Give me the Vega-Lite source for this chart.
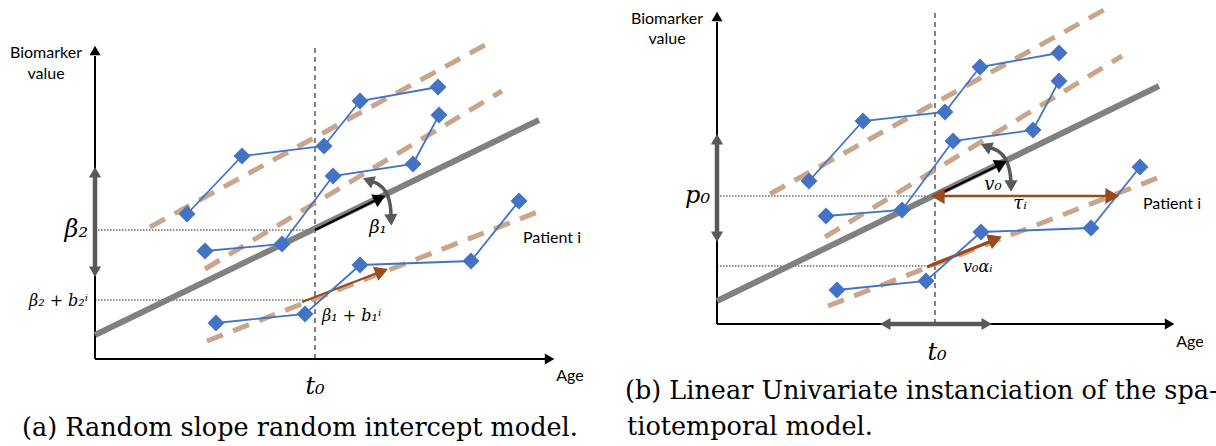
{
  "$schema": "https://vega.github.io/schema/vega-lite/v6.json",
  "padding": 0,
  "spacing": 0,
  "background": "white",
  "config": {"view": {"stroke": null}},
  "datasets": {
    "segs": [
      {"panel": "a", "id": "a_yax", "style": "axis", "o": 0, "x": 0, "y": 0},
      {"panel": "a", "id": "a_yax", "style": "axis", "o": 1, "x": 0, "y": 303},
      {"panel": "a", "id": "a_xax", "style": "axis", "o": 0, "x": 0, "y": 0},
      {"panel": "a", "id": "a_xax", "style": "axis", "o": 1, "x": 450, "y": 0},
      {"panel": "a", "id": "a_gs", "style": "grayshaft", "o": 0, "x": 0, "y": 89},
      {"panel": "a", "id": "a_gs", "style": "grayshaft", "o": 1, "x": 0, "y": 185},
      {"panel": "a", "id": "a_d1", "style": "dotted", "o": 0, "x": 0, "y": 129},
      {"panel": "a", "id": "a_d1", "style": "dotted", "o": 1, "x": 220, "y": 129},
      {"panel": "a", "id": "a_d2", "style": "dotted", "o": 0, "x": 0, "y": 59},
      {"panel": "a", "id": "a_d2", "style": "dotted", "o": 1, "x": 220, "y": 59},
      {"panel": "a", "id": "a_t0", "style": "t0", "o": 0, "x": 220, "y": 0},
      {"panel": "a", "id": "a_t0", "style": "t0", "o": 1, "x": 220, "y": 312},
      {"panel": "a", "id": "a_pop", "style": "pop", "o": 0, "x": 0, "y": 24},
      {"panel": "a", "id": "a_pop", "style": "pop", "o": 1, "x": 444, "y": 239},
      {"panel": "a", "id": "a_tA", "style": "tan", "o": 0, "x": 55, "y": 132},
      {"panel": "a", "id": "a_tA", "style": "tan", "o": 1, "x": 390, "y": 314},
      {"panel": "a", "id": "a_tB", "style": "tan", "o": 0, "x": 110, "y": 90},
      {"panel": "a", "id": "a_tB", "style": "tan", "o": 1, "x": 407, "y": 268},
      {"panel": "a", "id": "a_tC", "style": "tan", "o": 0, "x": 112, "y": 18},
      {"panel": "a", "id": "a_tC", "style": "tan", "o": 1, "x": 445, "y": 148},
      {"panel": "a", "id": "a_bk", "style": "black", "o": 0, "x": 220, "y": 129},
      {"panel": "a", "id": "a_bk", "style": "black", "o": 1, "x": 283, "y": 160},
      {"panel": "a", "id": "a_br", "style": "brown", "o": 0, "x": 207, "y": 57},
      {"panel": "a", "id": "a_br", "style": "brown", "o": 1, "x": 285, "y": 87},
      {"panel": "a", "id": "a_cv", "style": "curve", "o": 0, "x": 273, "y": 178.5},
      {"panel": "a", "id": "a_cv", "style": "curve", "o": 1, "x": 283, "y": 175},
      {"panel": "a", "id": "a_cv", "style": "curve", "o": 2, "x": 291, "y": 167},
      {"panel": "a", "id": "a_cv", "style": "curve", "o": 3, "x": 295, "y": 155},
      {"panel": "a", "id": "a_cv", "style": "curve", "o": 4, "x": 296, "y": 143},

      {"panel": "b", "id": "b_yax", "style": "axis", "o": 0, "x": 0, "y": 0},
      {"panel": "b", "id": "b_yax", "style": "axis", "o": 1, "x": 0, "y": 302},
      {"panel": "b", "id": "b_xax", "style": "axis", "o": 0, "x": 0, "y": 0},
      {"panel": "b", "id": "b_xax", "style": "axis", "o": 1, "x": 448, "y": 0},
      {"panel": "b", "id": "b_gs1", "style": "grayshaft", "o": 0, "x": 0, "y": 89},
      {"panel": "b", "id": "b_gs1", "style": "grayshaft", "o": 1, "x": 0, "y": 183},
      {"panel": "b", "id": "b_gs2", "style": "grayshaft", "o": 0, "x": 170, "y": 0},
      {"panel": "b", "id": "b_gs2", "style": "grayshaft", "o": 1, "x": 268, "y": 0},
      {"panel": "b", "id": "b_d1", "style": "dotted", "o": 0, "x": 0, "y": 128},
      {"panel": "b", "id": "b_d1", "style": "dotted", "o": 1, "x": 218, "y": 128},
      {"panel": "b", "id": "b_d2", "style": "dotted", "o": 0, "x": 0, "y": 58},
      {"panel": "b", "id": "b_d2", "style": "dotted", "o": 1, "x": 218, "y": 58},
      {"panel": "b", "id": "b_t0", "style": "t0", "o": 0, "x": 218, "y": 0},
      {"panel": "b", "id": "b_t0", "style": "t0", "o": 1, "x": 218, "y": 312},
      {"panel": "b", "id": "b_pop", "style": "pop", "o": 0, "x": 0, "y": 23},
      {"panel": "b", "id": "b_pop", "style": "pop", "o": 1, "x": 442, "y": 238},
      {"panel": "b", "id": "b_tA", "style": "tan", "o": 0, "x": 53, "y": 130},
      {"panel": "b", "id": "b_tA", "style": "tan", "o": 1, "x": 387, "y": 314},
      {"panel": "b", "id": "b_tB", "style": "tan", "o": 0, "x": 108, "y": 87},
      {"panel": "b", "id": "b_tB", "style": "tan", "o": 1, "x": 405, "y": 268},
      {"panel": "b", "id": "b_tC", "style": "tan", "o": 0, "x": 111, "y": 18},
      {"panel": "b", "id": "b_tC", "style": "tan", "o": 1, "x": 443, "y": 147},
      {"panel": "b", "id": "b_bk", "style": "black", "o": 0, "x": 218, "y": 128},
      {"panel": "b", "id": "b_bk", "style": "black", "o": 1, "x": 282, "y": 159},
      {"panel": "b", "id": "b_tau", "style": "brown", "o": 0, "x": 223, "y": 128},
      {"panel": "b", "id": "b_tau", "style": "brown", "o": 1, "x": 393, "y": 128},
      {"panel": "b", "id": "b_br", "style": "brownbig", "o": 0, "x": 210, "y": 57},
      {"panel": "b", "id": "b_br", "style": "brownbig", "o": 1, "x": 277, "y": 84},
      {"panel": "b", "id": "b_cv", "style": "curve", "o": 0, "x": 271, "y": 177},
      {"panel": "b", "id": "b_cv", "style": "curve", "o": 1, "x": 281, "y": 173},
      {"panel": "b", "id": "b_cv", "style": "curve", "o": 2, "x": 288, "y": 166},
      {"panel": "b", "id": "b_cv", "style": "curve", "o": 3, "x": 292, "y": 156},
      {"panel": "b", "id": "b_cv", "style": "curve", "o": 4, "x": 294, "y": 143}
    ],
    "obs": [
      {"panel": "a", "pid": "A", "o": 0, "x": 92, "y": 145},
      {"panel": "a", "pid": "A", "o": 1, "x": 147, "y": 203},
      {"panel": "a", "pid": "A", "o": 2, "x": 229, "y": 213},
      {"panel": "a", "pid": "A", "o": 3, "x": 265, "y": 258},
      {"panel": "a", "pid": "A", "o": 4, "x": 343, "y": 272},
      {"panel": "a", "pid": "B", "o": 0, "x": 110, "y": 108},
      {"panel": "a", "pid": "B", "o": 1, "x": 187, "y": 115},
      {"panel": "a", "pid": "B", "o": 2, "x": 238, "y": 183},
      {"panel": "a", "pid": "B", "o": 3, "x": 318, "y": 195},
      {"panel": "a", "pid": "B", "o": 4, "x": 344, "y": 244},
      {"panel": "a", "pid": "C", "o": 0, "x": 121, "y": 36},
      {"panel": "a", "pid": "C", "o": 1, "x": 210, "y": 45},
      {"panel": "a", "pid": "C", "o": 2, "x": 265, "y": 94},
      {"panel": "a", "pid": "C", "o": 3, "x": 376, "y": 98},
      {"panel": "a", "pid": "C", "o": 4, "x": 424, "y": 158},
      {"panel": "b", "pid": "A", "o": 0, "x": 92, "y": 143},
      {"panel": "b", "pid": "A", "o": 1, "x": 146, "y": 203},
      {"panel": "b", "pid": "A", "o": 2, "x": 228, "y": 212},
      {"panel": "b", "pid": "A", "o": 3, "x": 263, "y": 257},
      {"panel": "b", "pid": "A", "o": 4, "x": 342, "y": 271},
      {"panel": "b", "pid": "B", "o": 0, "x": 109, "y": 108},
      {"panel": "b", "pid": "B", "o": 1, "x": 185, "y": 114},
      {"panel": "b", "pid": "B", "o": 2, "x": 236, "y": 183},
      {"panel": "b", "pid": "B", "o": 3, "x": 316, "y": 194},
      {"panel": "b", "pid": "B", "o": 4, "x": 342, "y": 243},
      {"panel": "b", "pid": "C", "o": 0, "x": 120, "y": 34},
      {"panel": "b", "pid": "C", "o": 1, "x": 209, "y": 43},
      {"panel": "b", "pid": "C", "o": 2, "x": 264, "y": 92},
      {"panel": "b", "pid": "C", "o": 3, "x": 374, "y": 96},
      {"panel": "b", "pid": "C", "o": 4, "x": 423, "y": 157}
    ],
    "heads": [
      {"panel": "a", "kind": "axis", "x": 0, "y": 307, "heading": 0},
      {"panel": "a", "kind": "axis", "x": 453, "y": 0, "heading": 90},
      {"panel": "a", "kind": "gray", "x": 0, "y": 185, "heading": 0},
      {"panel": "a", "kind": "gray", "x": 0, "y": 89, "heading": 180},
      {"panel": "a", "kind": "curve", "x": 275, "y": 178, "heading": -69},
      {"panel": "a", "kind": "curve", "x": 296, "y": 141, "heading": 177},
      {"panel": "a", "kind": "black", "x": 283, "y": 160, "heading": 64},
      {"panel": "a", "kind": "brown", "x": 284.7, "y": 86.8, "heading": 69},
      {"panel": "b", "kind": "axis", "x": 0, "y": 306, "heading": 0},
      {"panel": "b", "kind": "axis", "x": 451, "y": 0, "heading": 90},
      {"panel": "b", "kind": "gray", "x": 0, "y": 183, "heading": 0},
      {"panel": "b", "kind": "gray", "x": 0, "y": 89, "heading": 180},
      {"panel": "b", "kind": "gray", "x": 170, "y": 0, "heading": -90},
      {"panel": "b", "kind": "gray", "x": 268, "y": 0, "heading": 90},
      {"panel": "b", "kind": "curve", "x": 270.8, "y": 177, "heading": -67},
      {"panel": "b", "kind": "curve", "x": 294, "y": 140, "heading": 180},
      {"panel": "b", "kind": "black", "x": 282.5, "y": 159.3, "heading": 64},
      {"panel": "b", "kind": "brownbig", "x": 223, "y": 128, "heading": -90},
      {"panel": "b", "kind": "brownbig", "x": 393, "y": 128, "heading": 90},
      {"panel": "b", "kind": "brownbig", "x": 276.2, "y": 84, "heading": 68}
    ],
    "texts": [
      {"panel": "a", "role": "sansC", "x": -49, "y": 306, "label": "Biomarker"},
      {"panel": "a", "role": "sansC", "x": -49, "y": 285, "label": "value"},
      {"panel": "a", "role": "sansC", "x": 475, "y": -17, "label": "Age"},
      {"panel": "a", "role": "sansL", "x": 428, "y": 121, "label": "Patient i"},
      {"panel": "a", "role": "bigC", "x": 220, "y": -28, "label": "t₀"},
      {"panel": "a", "role": "bigR", "x": -7, "y": 129, "label": "β₂"},
      {"panel": "a", "role": "midC", "x": 283, "y": 131, "label": "β₁"},
      {"panel": "a", "role": "smallR", "x": -7, "y": 58, "label": "β₂ + b₂ⁱ"},
      {"panel": "a", "role": "smallL", "x": 227, "y": 43, "label": "β₁ + b₁ⁱ"},
      {"panel": "a", "role": "cap", "x": -73, "y": -69, "label": "(a) Random slope random intercept model."},
      {"panel": "b", "role": "sansC", "x": -50, "y": 305, "label": "Biomarker"},
      {"panel": "b", "role": "sansC", "x": -50, "y": 285, "label": "value"},
      {"panel": "b", "role": "sansC", "x": 473, "y": -18, "label": "Age"},
      {"panel": "b", "role": "sansL", "x": 426, "y": 120, "label": "Patient i"},
      {"panel": "b", "role": "bigC", "x": 220, "y": -29, "label": "t₀"},
      {"panel": "b", "role": "bigR", "x": -7, "y": 128, "label": "p₀"},
      {"panel": "b", "role": "midC", "x": 276, "y": 139, "label": "v₀"},
      {"panel": "b", "role": "midC", "x": 303, "y": 120, "label": "τᵢ"},
      {"panel": "b", "role": "smallL", "x": 246, "y": 57, "label": "v₀αᵢ"},
      {"panel": "b", "role": "cap", "x": -92, "y": -67, "label": "(b) Linear Univariate instanciation of the spa-"},
      {"panel": "b", "role": "cap", "x": -90, "y": -103, "label": "tiotemporal model."}
    ]
  },
  "hconcat": [
    {
      "width": 600,
      "height": 446,
      "encoding": {
        "x": {"field": "x", "type": "quantitative", "scale": {"domain": [-95, 505], "nice": false, "zero": false}, "axis": null},
        "y": {"field": "y", "type": "quantitative", "scale": {"domain": [-91, 355], "nice": false, "zero": false}, "axis": null}
      },
      "layer": [
        {"data": {"name": "segs"}, "transform": [{"filter": "datum.panel=='a' && datum.style=='dotted'"}], "mark": {"type": "line", "stroke": "#222", "strokeWidth": 1.2, "strokeDash": [1.5, 1.5]}, "encoding": {"detail": {"field": "id"}, "order": {"field": "o", "type": "quantitative"}}},
        {"data": {"name": "segs"}, "transform": [{"filter": "datum.panel=='a' && datum.style=='t0'"}], "mark": {"type": "line", "stroke": "#404040", "strokeWidth": 1.3, "strokeDash": [5, 4]}, "encoding": {"detail": {"field": "id"}, "order": {"field": "o", "type": "quantitative"}}},
        {"data": {"name": "segs"}, "transform": [{"filter": "datum.panel=='a' && datum.style=='axis'"}], "mark": {"type": "line", "stroke": "#000", "strokeWidth": 2}, "encoding": {"detail": {"field": "id"}, "order": {"field": "o", "type": "quantitative"}}},
        {"data": {"name": "segs"}, "transform": [{"filter": "datum.panel=='a' && datum.style=='grayshaft'"}], "mark": {"type": "line", "stroke": "#595959", "strokeWidth": 4.5}, "encoding": {"detail": {"field": "id"}, "order": {"field": "o", "type": "quantitative"}}},
        {"data": {"name": "segs"}, "transform": [{"filter": "datum.panel=='a' && datum.style=='pop'"}], "mark": {"type": "line", "stroke": "#808080", "strokeWidth": 6}, "encoding": {"detail": {"field": "id"}, "order": {"field": "o", "type": "quantitative"}}},
        {"data": {"name": "segs"}, "transform": [{"filter": "datum.panel=='a' && datum.style=='tan'"}], "mark": {"type": "line", "stroke": "#C9A68B", "strokeWidth": 5, "strokeDash": [17, 11]}, "encoding": {"detail": {"field": "id"}, "order": {"field": "o", "type": "quantitative"}}},
        {"data": {"name": "segs"}, "transform": [{"filter": "datum.panel=='a' && datum.style=='brown'"}], "mark": {"type": "line", "stroke": "#9C4A1A", "strokeWidth": 2}, "encoding": {"detail": {"field": "id"}, "order": {"field": "o", "type": "quantitative"}}},
        {"data": {"name": "obs"}, "transform": [{"filter": "datum.panel=='a'"}], "mark": {"type": "line", "stroke": "#4472C4", "strokeWidth": 1.8}, "encoding": {"detail": {"field": "pid"}, "order": {"field": "o", "type": "quantitative"}}},
        {"data": {"name": "obs"}, "transform": [{"filter": "datum.panel=='a'"}], "mark": {"type": "point", "shape": "diamond", "filled": true, "opacity": 1, "color": "#4472C4", "size": 290, "strokeWidth": 0}},
        {"data": {"name": "segs"}, "transform": [{"filter": "datum.panel=='a' && datum.style=='black'"}], "mark": {"type": "line", "stroke": "#000", "strokeWidth": 2.5}, "encoding": {"detail": {"field": "id"}, "order": {"field": "o", "type": "quantitative"}}},
        {"data": {"name": "segs"}, "transform": [{"filter": "datum.panel=='a' && datum.style=='curve'"}], "mark": {"type": "line", "stroke": "#595959", "strokeWidth": 3.5, "interpolate": "cardinal"}, "encoding": {"detail": {"field": "id"}, "order": {"field": "o", "type": "quantitative"}}},
        {"data": {"name": "heads"}, "transform": [{"filter": "datum.panel=='a'"}], "mark": {"type": "point", "shape": "triangle", "filled": true, "opacity": 1, "strokeWidth": 0},
          "encoding": {
            "color": {"field": "kind", "type": "nominal", "scale": {"domain": ["axis", "gray", "curve", "black", "brown", "brownbig"], "range": ["#000000", "#595959", "#595959", "#000000", "#9C4A1A", "#9C4A1A"]}, "legend": null},
            "size": {"field": "kind", "type": "ordinal", "scale": {"domain": ["axis", "gray", "curve", "black", "brown", "brownbig"], "range": [121, 256, 144, 100, 64, 144]}, "legend": null},
            "angle": {"field": "heading", "type": "quantitative", "scale": null}
          }},
        {"data": {"name": "texts"}, "transform": [{"filter": "datum.panel=='a' && datum.role=='sansC'"}], "mark": {"type": "text", "font": "Lato", "fontSize": 16, "align": "center", "baseline": "middle", "color": "#000"}, "encoding": {"text": {"field": "label"}}},
        {"data": {"name": "texts"}, "transform": [{"filter": "datum.panel=='a' && datum.role=='sansL'"}], "mark": {"type": "text", "font": "Lato", "fontSize": 16, "align": "left", "baseline": "middle", "color": "#000"}, "encoding": {"text": {"field": "label"}}},
        {"data": {"name": "texts"}, "transform": [{"filter": "datum.panel=='a' && datum.role=='bigC'"}], "mark": {"type": "text", "font": "DejaVu Serif", "fontStyle": "italic", "fontSize": 24, "align": "center", "baseline": "middle", "color": "#000"}, "encoding": {"text": {"field": "label"}}},
        {"data": {"name": "texts"}, "transform": [{"filter": "datum.panel=='a' && datum.role=='bigR'"}], "mark": {"type": "text", "font": "DejaVu Serif", "fontStyle": "italic", "fontSize": 24, "align": "right", "baseline": "middle", "color": "#000"}, "encoding": {"text": {"field": "label"}}},
        {"data": {"name": "texts"}, "transform": [{"filter": "datum.panel=='a' && datum.role=='midC'"}], "mark": {"type": "text", "font": "DejaVu Serif", "fontStyle": "italic", "fontSize": 18, "align": "center", "baseline": "middle", "color": "#000"}, "encoding": {"text": {"field": "label"}}},
        {"data": {"name": "texts"}, "transform": [{"filter": "datum.panel=='a' && datum.role=='smallR'"}], "mark": {"type": "text", "font": "DejaVu Serif", "fontStyle": "italic", "fontSize": 16, "align": "right", "baseline": "middle", "color": "#000"}, "encoding": {"text": {"field": "label"}}},
        {"data": {"name": "texts"}, "transform": [{"filter": "datum.panel=='a' && datum.role=='smallL'"}], "mark": {"type": "text", "font": "DejaVu Serif", "fontStyle": "italic", "fontSize": 16, "align": "left", "baseline": "middle", "color": "#000"}, "encoding": {"text": {"field": "label"}}},
        {"data": {"name": "texts"}, "transform": [{"filter": "datum.panel=='a' && datum.role=='cap'"}], "mark": {"type": "text", "font": "DejaVu Serif", "fontSize": 25.5, "align": "left", "baseline": "middle", "color": "#000"}, "encoding": {"text": {"field": "label"}}}
      ]
    },
    {
      "width": 616,
      "height": 446,
      "encoding": {
        "x": {"field": "x", "type": "quantitative", "scale": {"domain": [-117, 499], "nice": false, "zero": false}, "axis": null},
        "y": {"field": "y", "type": "quantitative", "scale": {"domain": [-126, 320], "nice": false, "zero": false}, "axis": null}
      },
      "layer": [
        {"data": {"name": "segs"}, "transform": [{"filter": "datum.panel=='b' && datum.style=='dotted'"}], "mark": {"type": "line", "stroke": "#222", "strokeWidth": 1.2, "strokeDash": [1.5, 1.5]}, "encoding": {"detail": {"field": "id"}, "order": {"field": "o", "type": "quantitative"}}},
        {"data": {"name": "segs"}, "transform": [{"filter": "datum.panel=='b' && datum.style=='t0'"}], "mark": {"type": "line", "stroke": "#404040", "strokeWidth": 1.3, "strokeDash": [5, 4]}, "encoding": {"detail": {"field": "id"}, "order": {"field": "o", "type": "quantitative"}}},
        {"data": {"name": "segs"}, "transform": [{"filter": "datum.panel=='b' && datum.style=='axis'"}], "mark": {"type": "line", "stroke": "#000", "strokeWidth": 2}, "encoding": {"detail": {"field": "id"}, "order": {"field": "o", "type": "quantitative"}}},
        {"data": {"name": "segs"}, "transform": [{"filter": "datum.panel=='b' && datum.style=='grayshaft'"}], "mark": {"type": "line", "stroke": "#595959", "strokeWidth": 4.5}, "encoding": {"detail": {"field": "id"}, "order": {"field": "o", "type": "quantitative"}}},
        {"data": {"name": "segs"}, "transform": [{"filter": "datum.panel=='b' && datum.style=='pop'"}], "mark": {"type": "line", "stroke": "#808080", "strokeWidth": 6}, "encoding": {"detail": {"field": "id"}, "order": {"field": "o", "type": "quantitative"}}},
        {"data": {"name": "segs"}, "transform": [{"filter": "datum.panel=='b' && datum.style=='tan'"}], "mark": {"type": "line", "stroke": "#C9A68B", "strokeWidth": 5, "strokeDash": [17, 11]}, "encoding": {"detail": {"field": "id"}, "order": {"field": "o", "type": "quantitative"}}},
        {"data": {"name": "segs"}, "transform": [{"filter": "datum.panel=='b' && datum.style=='brown'"}], "mark": {"type": "line", "stroke": "#9C4A1A", "strokeWidth": 2.5}, "encoding": {"detail": {"field": "id"}, "order": {"field": "o", "type": "quantitative"}}},
        {"data": {"name": "segs"}, "transform": [{"filter": "datum.panel=='b' && datum.style=='brownbig'"}], "mark": {"type": "line", "stroke": "#9C4A1A", "strokeWidth": 3.2}, "encoding": {"detail": {"field": "id"}, "order": {"field": "o", "type": "quantitative"}}},
        {"data": {"name": "obs"}, "transform": [{"filter": "datum.panel=='b'"}], "mark": {"type": "line", "stroke": "#4472C4", "strokeWidth": 1.8}, "encoding": {"detail": {"field": "pid"}, "order": {"field": "o", "type": "quantitative"}}},
        {"data": {"name": "obs"}, "transform": [{"filter": "datum.panel=='b'"}], "mark": {"type": "point", "shape": "diamond", "filled": true, "opacity": 1, "color": "#4472C4", "size": 290, "strokeWidth": 0}},
        {"data": {"name": "segs"}, "transform": [{"filter": "datum.panel=='b' && datum.style=='black'"}], "mark": {"type": "line", "stroke": "#000", "strokeWidth": 2.5}, "encoding": {"detail": {"field": "id"}, "order": {"field": "o", "type": "quantitative"}}},
        {"data": {"name": "segs"}, "transform": [{"filter": "datum.panel=='b' && datum.style=='curve'"}], "mark": {"type": "line", "stroke": "#595959", "strokeWidth": 3.5, "interpolate": "cardinal"}, "encoding": {"detail": {"field": "id"}, "order": {"field": "o", "type": "quantitative"}}},
        {"data": {"name": "heads"}, "transform": [{"filter": "datum.panel=='b'"}], "mark": {"type": "point", "shape": "triangle", "filled": true, "opacity": 1, "strokeWidth": 0},
          "encoding": {
            "color": {"field": "kind", "type": "nominal", "scale": {"domain": ["axis", "gray", "curve", "black", "brown", "brownbig"], "range": ["#000000", "#595959", "#595959", "#000000", "#9C4A1A", "#9C4A1A"]}, "legend": null},
            "size": {"field": "kind", "type": "ordinal", "scale": {"domain": ["axis", "gray", "curve", "black", "brown", "brownbig"], "range": [121, 256, 144, 100, 64, 144]}, "legend": null},
            "angle": {"field": "heading", "type": "quantitative", "scale": null}
          }},
        {"data": {"name": "texts"}, "transform": [{"filter": "datum.panel=='b' && datum.role=='sansC'"}], "mark": {"type": "text", "font": "Lato", "fontSize": 16, "align": "center", "baseline": "middle", "color": "#000"}, "encoding": {"text": {"field": "label"}}},
        {"data": {"name": "texts"}, "transform": [{"filter": "datum.panel=='b' && datum.role=='sansL'"}], "mark": {"type": "text", "font": "Lato", "fontSize": 16, "align": "left", "baseline": "middle", "color": "#000"}, "encoding": {"text": {"field": "label"}}},
        {"data": {"name": "texts"}, "transform": [{"filter": "datum.panel=='b' && datum.role=='bigC'"}], "mark": {"type": "text", "font": "DejaVu Serif", "fontStyle": "italic", "fontSize": 24, "align": "center", "baseline": "middle", "color": "#000"}, "encoding": {"text": {"field": "label"}}},
        {"data": {"name": "texts"}, "transform": [{"filter": "datum.panel=='b' && datum.role=='bigR'"}], "mark": {"type": "text", "font": "DejaVu Serif", "fontStyle": "italic", "fontSize": 24, "align": "right", "baseline": "middle", "color": "#000"}, "encoding": {"text": {"field": "label"}}},
        {"data": {"name": "texts"}, "transform": [{"filter": "datum.panel=='b' && datum.role=='midC'"}], "mark": {"type": "text", "font": "DejaVu Serif", "fontStyle": "italic", "fontSize": 18, "align": "center", "baseline": "middle", "color": "#000"}, "encoding": {"text": {"field": "label"}}},
        {"data": {"name": "texts"}, "transform": [{"filter": "datum.panel=='b' && datum.role=='smallL'"}], "mark": {"type": "text", "font": "DejaVu Serif", "fontStyle": "italic", "fontSize": 16, "align": "left", "baseline": "middle", "color": "#000"}, "encoding": {"text": {"field": "label"}}},
        {"data": {"name": "texts"}, "transform": [{"filter": "datum.panel=='b' && datum.role=='cap'"}], "mark": {"type": "text", "font": "DejaVu Serif", "fontSize": 25.5, "align": "left", "baseline": "middle", "color": "#000"}, "encoding": {"text": {"field": "label"}}}
      ]
    }
  ]
}
